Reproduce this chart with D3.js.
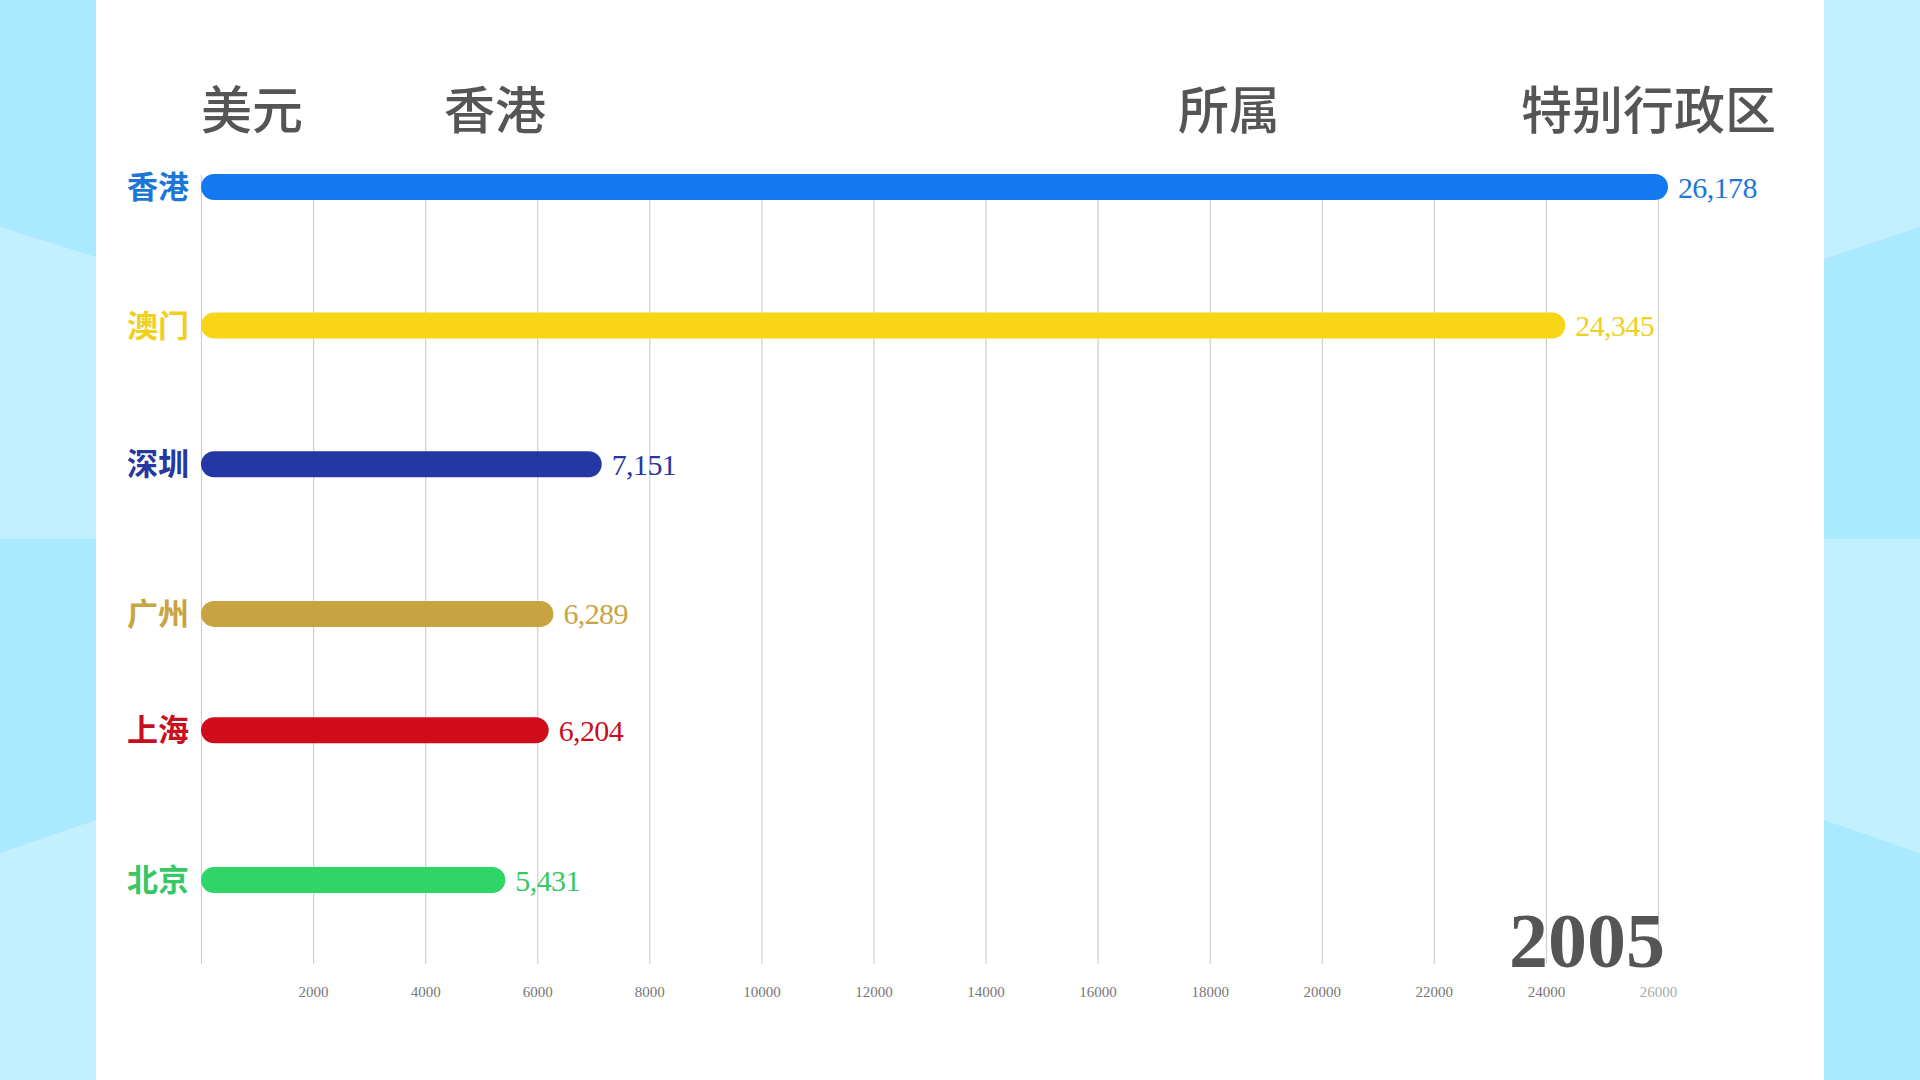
<!DOCTYPE html>
<html>
<head>
<meta charset="utf-8">
<script src="https://cdnjs.cloudflare.com/ajax/libs/d3/7.8.5/d3.min.js"></script>
<style>
  html, body { margin: 0; padding: 0; background: #fff; }
  svg { display: block; }
</style>
</head>
<body>
<svg id="chart" width="1920" height="1080"></svg>
<script>
// ---- data ----
const year = "2005";
const headerWords = ["美元", "香港", "所属", "特别行政区"];
const cities = ["香港", "澳门", "深圳", "广州", "上海", "北京"];
const values = [26178, 24345, 7151, 6289, 6204, 5431];
// animated rank position of each bar at this frame (广州/上海 mid-swap)
const rankPos = [0, 1, 2, 3.08, 3.92, 5];
const barColors = ["#1479f0", "#f8d515", "#2537a5", "#c8a341", "#d00c1b", "#2fd667"];
const labelColors = ["#1c77d6", "#f1cf1d", "#26379f", "#c9a443", "#c70f1f", "#37c863"];
const tickValues = [0, 2000, 4000, 6000, 8000, 10000, 12000, 14000, 16000, 18000, 20000, 22000, 24000, 26000];

// ---- layout ----
const W = 1920, H = 1080;
const svg = d3.select("#chart");

// background side panels
const dark = "#abe9fe", light = "#c3f0ff";
const bg = svg.append("g");
bg.append("rect").attr("x", 0).attr("y", 0).attr("width", W).attr("height", H).attr("fill", dark);
bg.append("polygon").attr("points", "0,227 96,257 96,539 0,539").attr("fill", light);
bg.append("polygon").attr("points", "0,853 96,820 96,1080 0,1080").attr("fill", light);
bg.append("polygon").attr("points", "1824,0 1920,0 1920,227 1824,259").attr("fill", light);
bg.append("polygon").attr("points", "1824,539 1920,539 1920,853 1824,820").attr("fill", light);
// white panel
svg.append("rect").attr("x", 96).attr("y", 0).attr("width", 1728).attr("height", H).attr("fill", "#ffffff");

const x = d3.scaleLinear().domain([0, 26000]).range([201, 1658]);
const y = d3.scaleLinear().domain([0, 5]).range([187, 880]);
const barH = 26;

// gridlines + axis via d3.axisBottom
const gridTop = 175, gridBottom = 964;
const axis = d3.axisBottom(x)
  .tickValues(tickValues)
  .tickSize(-(gridBottom - gridTop))
  .tickFormat(d => d === 0 ? "" : String(d));
const axisG = svg.append("g")
  .attr("transform", `translate(0,${gridBottom})`)
  .call(axis);
axisG.select(".domain").remove();
axisG.selectAll(".tick line").attr("stroke", "#cfcfcf").attr("stroke-width", 1.2);
axisG.selectAll(".tick text")
  .attr("y", 22)
  .attr("font-family", "'Liberation Serif', 'DejaVu Serif', serif")
  .attr("font-size", 15)
  .attr("fill", (d) => d === 26000 ? "#a8a8a8" : "#777");

// header
const headerX = [201, 444, 1178, 1521];
svg.append("g").selectAll("text")
  .data(headerWords)
  .join("text")
  .attr("x", (d, i) => headerX[i])
  .attr("y", 129)
  .attr("font-family", "'Noto Sans CJK SC', sans-serif")
  .attr("font-size", 51)
  .attr("font-weight", 500)
  .attr("fill", "#555")
  .text(d => d);

// bars
const rows = cities.map((c, i) => ({ city: c, value: values[i], rank: rankPos[i], color: barColors[i], lc: labelColors[i] }));

svg.append("g").selectAll("rect")
  .data(rows)
  .join("rect")
  .attr("x", x(0))
  .attr("y", d => y(d.rank) - barH / 2)
  .attr("width", d => x(d.value) - x(0))
  .attr("height", barH)
  .attr("rx", barH / 2)
  .attr("ry", barH / 2)
  .attr("fill", d => d.color);

// category labels
svg.append("g").selectAll("text")
  .data(rows)
  .join("text")
  .attr("x", 189)
  .attr("y", d => y(d.rank))
  .attr("dy", "0.36em")
  .attr("text-anchor", "end")
  .attr("font-family", "'Noto Sans CJK SC', sans-serif")
  .attr("font-size", 31)
  .attr("font-weight", 700)
  .attr("fill", d => d.lc)
  .text(d => d.city);

// value labels
const fmt = d3.format(",");
svg.append("g").selectAll("text")
  .data(rows)
  .join("text")
  .attr("x", d => x(d.value) + 10)
  .attr("y", d => y(d.rank))
  .attr("dy", "0.35em")
  .attr("font-family", "'Liberation Serif', serif")
  .attr("font-size", 30)
  .attr("letter-spacing", -0.6)
  .attr("fill", d => d.lc)
  .text(d => fmt(d.value));

// year
svg.append("text")
  .attr("x", 1665)
  .attr("y", 967)
  .attr("text-anchor", "end")
  .attr("font-family", "'Liberation Serif', serif")
  .attr("font-size", 78)
  .attr("font-weight", 700)
  .attr("fill", "#555")
  .text(year);
</script>
</body>
</html>
